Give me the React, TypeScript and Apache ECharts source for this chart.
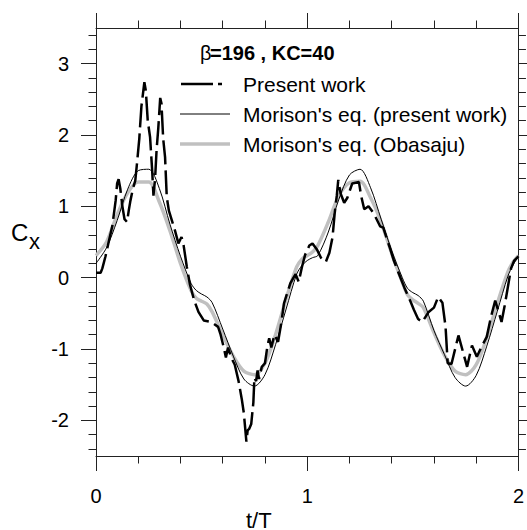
import React, { useEffect, useRef } from "react";
import * as echarts from "echarts";

// ---- data ----
const tMorison = [
  0, 0.05, 0.1, 0.15, 0.2, 0.25, 0.3, 0.35, 0.4, 0.45, 0.475, 0.5, 0.525, 0.55, 0.6, 0.65, 0.7, 0.75, 0.8, 0.85,
  0.9, 0.95, 0.975, 1.0, 1.025, 1.05, 1.1, 1.15, 1.2, 1.25, 1.3, 1.35, 1.4, 1.45, 1.475, 1.5, 1.525, 1.55, 1.6,
  1.65, 1.7, 1.75, 1.8, 1.85, 1.9, 1.95, 1.975, 2.0,
];
const morisonPresent = [
  0.2, 0.42, 0.8, 1.24, 1.5, 1.52, 1.25, 0.75, 0.3, -0.08, -0.18, -0.23, -0.27, -0.35, -0.72, -1.1, -1.42, -1.52,
  -1.36, -0.94, -0.44, 0.05, 0.17, 0.24, 0.28, 0.31, 0.64, 1.1, 1.44, 1.52, 1.26, 0.82, 0.38, 0.0, -0.15, -0.21,
  -0.25, -0.33, -0.74, -1.08, -1.4, -1.52, -1.37, -0.96, -0.47, 0.02, 0.18, 0.3,
];
const morisonObasaju = [
  0.31, 0.5, 0.88, 1.19, 1.34, 1.34, 1.06, 0.66, 0.2, -0.18, -0.29, -0.33, -0.37, -0.48, -0.8, -1.1, -1.31, -1.36,
  -1.2, -0.8, -0.3, 0.15, 0.26, 0.31, 0.36, 0.45, 0.78, 1.15, 1.33, 1.35, 1.12, 0.78, 0.34, -0.06, -0.24, -0.31,
  -0.36, -0.42, -0.77, -1.09, -1.31, -1.36, -1.22, -0.84, -0.36, 0.08, 0.22, 0.31,
];
const presentWork: [number, number][] = [
  [0.0, 0.07], [0.022, 0.07], [0.03, 0.13], [0.045, 0.3], [0.06, 0.5], [0.077, 0.72], [0.093, 1.08], [0.1, 1.32],
  [0.107, 1.38], [0.115, 1.25], [0.125, 1.0], [0.135, 0.82], [0.147, 0.78], [0.155, 0.94], [0.163, 1.08],
  [0.175, 1.25], [0.186, 1.36], [0.194, 1.6], [0.205, 1.95], [0.215, 2.4], [0.229, 2.74], [0.236, 2.62],
  [0.245, 2.2], [0.256, 1.97], [0.266, 1.5], [0.272, 1.15], [0.28, 1.4], [0.287, 1.8], [0.295, 2.1], [0.304, 2.52],
  [0.31, 2.44], [0.318, 1.95], [0.327, 1.69], [0.335, 1.13], [0.345, 0.94], [0.374, 0.66], [0.39, 0.48],
  [0.405, 0.57], [0.415, 0.45], [0.43, 0.15], [0.445, -0.1], [0.465, -0.32], [0.485, -0.48], [0.51, -0.6],
  [0.545, -0.62], [0.578, -0.69], [0.59, -0.8], [0.605, -0.98], [0.615, -1.12], [0.625, -0.98], [0.64, -1.12],
  [0.657, -1.22], [0.675, -1.45], [0.69, -1.7], [0.7, -1.9], [0.712, -2.3], [0.718, -2.14], [0.725, -2.12],
  [0.735, -2.05], [0.74, -1.9], [0.745, -1.75], [0.75, -1.4], [0.758, -1.45], [0.765, -1.3], [0.772, -1.42],
  [0.785, -1.25], [0.8, -1.2], [0.812, -0.95], [0.82, -0.85], [0.83, -0.98], [0.845, -0.8], [0.862, -0.9],
  [0.877, -0.64], [0.89, -0.36], [0.92, -0.08], [0.935, 0.0], [0.945, 0.05], [0.96, -0.06], [0.975, 0.15],
  [0.99, 0.32], [1.01, 0.45], [1.025, 0.48], [1.045, 0.4], [1.065, 0.28], [1.088, 0.22], [1.105, 0.35],
  [1.12, 0.57], [1.13, 0.9], [1.14, 1.15], [1.147, 1.37], [1.158, 1.18], [1.175, 1.05], [1.19, 1.12],
  [1.213, 1.32], [1.245, 1.34], [1.255, 1.15], [1.27, 0.96], [1.29, 1.0], [1.315, 0.9], [1.345, 0.72],
  [1.36, 0.7], [1.39, 0.43], [1.41, 0.24], [1.428, 0.1], [1.46, -0.14], [1.49, -0.34], [1.505, -0.45],
  [1.525, -0.58], [1.545, -0.62], [1.56, -0.55], [1.575, -0.48], [1.6, -0.42], [1.62, -0.27], [1.64, -0.35],
  [1.655, -0.69], [1.665, -1.2], [1.683, -1.21], [1.716, -0.81], [1.757, -1.25], [1.78, -0.95], [1.803, -1.11],
  [1.825, -0.97], [1.85, -0.83], [1.87, -0.55], [1.89, -0.32], [1.92, -0.62], [1.935, -0.39], [1.95, -0.13],
  [1.965, 0.13], [1.98, 0.24], [2.0, 0.3],
];

const xMajorTicks = [0, 1, 2];
const xMinorTicks = [0.2, 0.4, 0.6, 0.8, 1.2, 1.4, 1.6, 1.8];
const yMajorTicks = [-2, -1, 0, 1, 2, 3];
const yMinorTicks = [
  -2.4, -2.2, -1.8, -1.6, -1.4, -1.2, -0.8, -0.6, -0.4, -0.2, 0.2, 0.4, 0.6, 0.8, 1.2, 1.4, 1.6, 1.8, 2.2, 2.4,
  2.6, 2.8, 3.2, 3.4,
];

const titleText = "=196 , KC=40";
const legendNames = ["Present work", "Morison's eq. (present work)", "Morison's eq. (Obasaju)"];

const FONT = '"Liberation Sans", Arial, sans-serif';
const AXIS_COLOR = "#222";
const GRAY = "#c0c0c0";

export default function App() {
  const ref = useRef<HTMLDivElement>(null);

  useEffect(() => {
    if (!ref.current) return;
    const chart = echarts.init(ref.current, undefined, { renderer: "svg" });

    const mkX = (position: "bottom" | "top", ticks: number[], len: number, labels: boolean, line: boolean) => ({
      type: "value",
      position,
      min: 0,
      max: 2,
      axisLine: { show: line, onZero: false, lineStyle: { color: AXIS_COLOR, width: 1 } },
      axisTick: { show: true, customValues: ticks, length: len, inside: false, lineStyle: { color: AXIS_COLOR, width: 1 } },
      axisLabel: labels
        ? { show: true, customValues: ticks, margin: 30, fontSize: 20, color: "#000", fontFamily: FONT }
        : { show: false },
      splitLine: { show: false },
    });
    const mkY = (position: "left" | "right", ticks: number[], len: number, labels: boolean, line: boolean) => ({
      type: "value",
      position,
      min: -2.5,
      max: 3.5,
      axisLine: { show: line, onZero: false, lineStyle: { color: AXIS_COLOR, width: 1 } },
      axisTick: { show: true, customValues: ticks, length: len, inside: false, lineStyle: { color: AXIS_COLOR, width: 1 } },
      axisLabel: labels
        ? { show: true, customValues: ticks, margin: 27, fontSize: 20, color: "#000", fontFamily: FONT }
        : { show: false },
      splitLine: { show: false },
    });

    const option: any = {
      animation: false,
      backgroundColor: "#fff",
      grid: { left: 96, top: 28, width: 426, height: 428, containLabel: false },
      xAxis: [
        mkX("bottom", xMajorTicks, 15, true, true),
        mkX("bottom", xMinorTicks, 7.5, false, false),
        mkX("top", xMajorTicks, 15, false, true),
        mkX("top", xMinorTicks, 7.5, false, false),
      ],
      yAxis: [
        mkY("left", yMajorTicks, 15, true, true),
        mkY("left", yMinorTicks, 7.5, false, false),
        mkY("right", yMajorTicks, 15, false, true),
        mkY("right", yMinorTicks, 7.5, false, false),
      ],
      series: [
        {
          name: legendNames[2],
          type: "line",
          xAxisIndex: 0,
          yAxisIndex: 0,
          data: tMorison.map((t, i) => [t, morisonObasaju[i]]),
          smooth: 0.3,
          showSymbol: false,
          lineStyle: { color: GRAY, width: 3.5 },
          z: 2,
        },
        {
          name: legendNames[1],
          type: "line",
          xAxisIndex: 0,
          yAxisIndex: 0,
          data: tMorison.map((t, i) => [t, morisonPresent[i]]),
          smooth: 0.3,
          showSymbol: false,
          lineStyle: { color: "#000", width: 1 },
          z: 3,
        },
        {
          name: legendNames[0],
          type: "line",
          xAxisIndex: 0,
          yAxisIndex: 0,
          data: presentWork,
          showSymbol: false,
          lineStyle: { color: "#000", width: 2.5, type: [24, 6] },
          z: 4,
        },
      ],
      graphic: [
        { type: "text", style: { text: "β", x: 200, y: 52.5, fontSize: 20, fontFamily: FONT, fill: "#000", verticalAlign: "middle", align: "left" } },
        { type: "text", style: { text: titleText, x: 210, y: 52.5, fontSize: 20, fontWeight: "bold", fontFamily: FONT, fill: "#000", verticalAlign: "middle", align: "left" } },
        { type: "line", shape: { x1: 181, y1: 84, x2: 222, y2: 84 }, style: { stroke: "#000", lineWidth: 2.5, lineDash: [32, 5, 4, 100] } },
        { type: "line", shape: { x1: 180, y1: 114, x2: 230, y2: 114 }, style: { stroke: "#000", lineWidth: 1 } },
        { type: "line", shape: { x1: 180, y1: 144, x2: 230, y2: 144 }, style: { stroke: GRAY, lineWidth: 3.5 } },
        { type: "text", style: { text: legendNames[0], x: 243, y: 84, fontSize: 21, fontFamily: FONT, fill: "#000", verticalAlign: "middle", align: "left" } },
        { type: "text", style: { text: legendNames[1], x: 243, y: 114, fontSize: 21, fontFamily: FONT, fill: "#000", verticalAlign: "middle", align: "left" } },
        { type: "text", style: { text: legendNames[2], x: 243, y: 144, fontSize: 21, fontFamily: FONT, fill: "#000", verticalAlign: "middle", align: "left" } },
        { type: "text", style: { text: "C", x: 11, y: 232, fontSize: 24, fontFamily: FONT, fill: "#000", verticalAlign: "middle", align: "left" } },
        { type: "text", style: { text: "x", x: 29, y: 241, fontSize: 22, fontFamily: FONT, fill: "#000", verticalAlign: "middle", align: "left" } },
        { type: "text", style: { text: "t/T", x: 246, y: 520, fontSize: 22, fontFamily: FONT, fill: "#000", verticalAlign: "middle", align: "left" } },
      ],
    };

    chart.setOption(option);
    return () => chart.dispose();
  }, []);

  return (
    <div
      ref={ref}
      style={{ position: "fixed", left: 0, top: 0, width: 527, height: 530, background: "#fff" }}
    />
  );
}
